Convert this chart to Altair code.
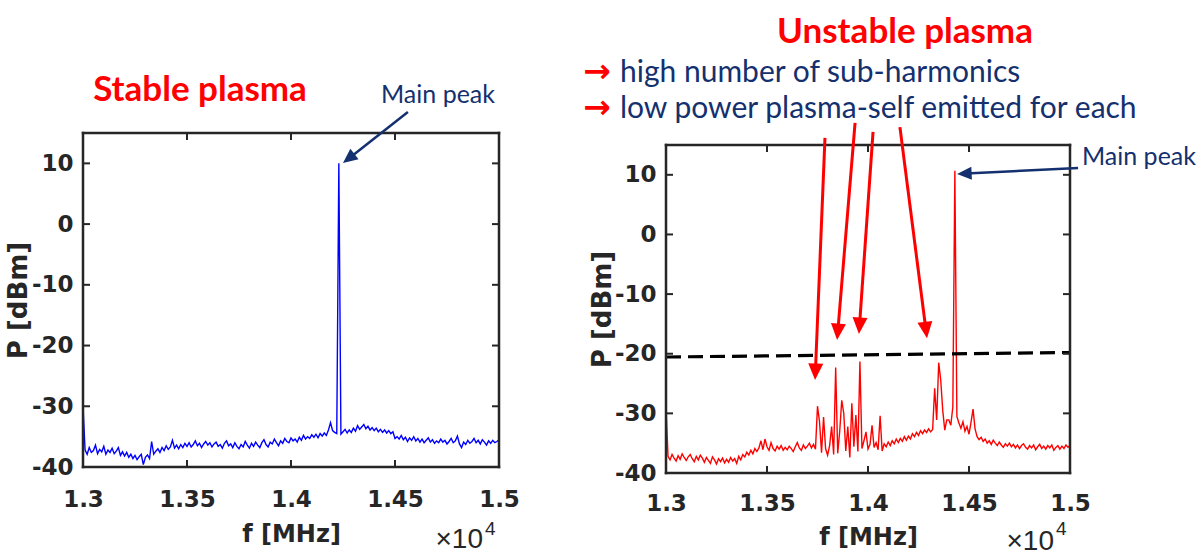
import math
import altair as alt
import pandas as pd

# ---------------- data ----------------
F_START = 1.3      # frequency axis in units of 10^4 MHz
F_STEP = 0.001

P_STABLE = [
    -30.0, -37.2, -37.9, -36.8, -37.6, -37.3, -36.4, -37.8, -37.1, -37.5,
    -36.6, -37.9, -37.2, -37.6, -36.9, -37.8, -37.4, -36.8, -38.1, -37.5,
    -38.2, -37.6, -38.4, -37.9, -38.6, -38.1, -38.8, -38.3, -37.9, -39.6,
    -38.4, -38.0, -38.6, -35.8, -37.9, -37.4, -37.0, -37.6, -36.8, -37.3,
    -36.5, -37.1, -36.7, -35.6, -36.9, -36.4, -37.0, -36.3, -36.8, -36.1,
    -36.6, -36.0, -36.7, -36.3, -35.7, -36.5, -36.1, -36.8, -36.2, -35.8,
    -36.4, -36.0, -36.7, -36.2, -35.9, -36.6, -36.3, -36.9, -36.1, -35.7,
    -36.5, -36.2, -36.8, -36.0, -36.6, -37.0, -36.3, -36.7, -35.8, -36.4,
    -36.9, -36.1, -36.6, -35.9, -36.4, -36.8, -36.0, -35.5, -36.3, -36.7,
    -35.9, -36.2, -35.4, -36.0, -36.5, -35.7, -36.1, -35.3, -35.8, -36.0,
    -35.2, -35.7, -35.4, -35.9, -35.1, -35.6, -34.8, -35.4, -35.0, -35.3,
    -34.7, -35.1, -34.6, -35.2, -34.5, -34.9, -34.4, -34.8, -33.9, -32.7,
    -34.0, -34.3, -34.5, 10.0, -34.6, -34.2, -33.8, -34.4, -33.9, -34.3,
    -33.6, -34.1, -33.2, -33.8, -33.4, -33.0, -33.7, -33.3, -33.9, -33.5,
    -34.0, -33.6, -34.2, -33.8, -34.3, -33.9, -34.4, -34.0, -34.5, -34.2,
    -35.3, -35.0, -35.4, -34.8, -35.5, -35.1, -35.8, -35.2, -35.6, -35.0,
    -35.7, -35.3, -35.9, -35.4, -36.0, -35.6, -35.2, -35.9, -35.5, -36.1,
    -35.7, -36.0, -35.4, -35.9, -35.6, -36.2, -35.8, -35.3, -36.0, -35.7,
    -34.9, -36.2, -36.8, -35.9, -36.3, -35.6, -36.1, -35.8, -35.3, -36.0,
    -35.6, -36.2, -35.5, -35.9, -36.4, -35.7, -36.1, -35.6, -36.0, -35.8,
    -35.5,
]

P_UNSTABLE = [
    -29.0, -37.2, -37.8, -36.9, -37.5, -38.0, -37.1, -37.7, -36.8, -37.4,
    -37.9, -37.3, -36.9, -37.6, -38.1, -37.2, -37.8, -37.0, -37.5, -38.2,
    -37.4, -37.9, -38.4, -37.3, -37.8, -38.5, -37.6, -38.1, -37.5, -38.3,
    -37.7, -38.2, -37.4, -38.0, -37.6, -38.4, -37.2, -37.8, -36.9, -37.3,
    -36.5, -37.0, -36.2, -36.8, -35.9, -36.4, -35.8, -34.6, -36.1, -34.3,
    -35.6, -36.2, -34.9, -35.9, -36.3, -35.5, -36.0, -35.4, -36.2, -35.7,
    -36.1, -35.5, -35.9, -36.4, -35.6, -34.9, -35.8, -36.2, -35.3, -35.9,
    -35.5, -35.0, -35.8, -35.2, -36.0, -28.8, -31.4, -36.6, -30.6, -35.9,
    -37.0, -35.4, -32.2, -36.9, -22.3, -36.7, -33.0, -27.8, -30.0, -36.3,
    -32.2, -37.4, -28.3, -35.6, -30.3, -36.4, -21.3, -35.9, -34.6, -33.1,
    -36.0, -35.2, -32.0, -35.7, -34.9, -36.1, -30.4, -36.3, -35.1, -35.6,
    -34.8, -35.4, -34.6, -35.1, -34.3, -34.9, -34.2, -34.7, -33.9, -34.5,
    -33.8, -34.3, -33.4, -33.9, -33.2, -33.7, -32.9, -33.4, -32.8, -33.2,
    -32.6, -33.1, -32.7, -25.8, -31.1, -21.5, -24.4, -29.5, -32.8, -31.1,
    -31.1, -32.0, -28.9, 10.7, -30.5, -31.6, -32.5, -31.4, -33.0, -32.2,
    -33.5, -31.5, -29.3, -32.6, -33.9, -34.4, -34.0, -34.7, -34.3, -35.0,
    -34.6, -35.2, -34.5, -35.0, -35.4, -34.8, -35.3, -35.7, -35.1, -35.5,
    -35.0, -35.6, -35.2, -35.8, -35.3, -35.9, -35.4, -35.1, -35.7, -36.0,
    -35.4, -35.8, -35.3, -36.1, -35.6, -35.2, -35.9, -35.5, -36.0, -35.4,
    -35.8, -35.3, -36.2, -35.7, -35.4, -36.0, -35.5, -35.9, -35.3, -35.7,
    -35.4,
]

X_TICKS = [1.3, 1.35, 1.4, 1.45, 1.5]
Y_TICKS = [-40, -30, -20, -10, 0, 10]
F_DOMAIN = [1.3, 1.5]
P_DOMAIN = [-40, 15]

# dashed threshold line (right panel)
THRESH_F = [1.3, 1.5]
THRESH_P = [-20.55, -19.8]

# red arrows to the sub-harmonics (start -> tip, data units)
SUB_F0 = [1.3787, 1.3936, 1.4025, 1.4158]
SUB_P0 = [16.2, 18.7, 17.2, 18.0]
SUB_F1 = [1.3738, 1.3847, 1.3955, 1.4292]
SUB_P1 = [-24.4, -17.7, -16.7, -17.4]

# "Main peak" arrows
MAIN_L_F0, MAIN_L_P0, MAIN_L_F1, MAIN_L_P1 = [1.4562], [18.46], [1.4250], [10.06]
MAIN_R_F0, MAIN_R_P0, MAIN_R_F1, MAIN_R_P1 = [1.5040], [11.14], [1.4441], [10.14]

# ---------------- styles / layout ----------------
AX = "#262626"
NAVY = "#14306E"
RED = "#FF0000"
BLUE = "#0000FF"
WL, HL = 416, 334          # left frame size
WR, HR = 404, 328          # right frame size
DROP_R = 12                # right frame sits 12 px lower than the left one
GAP = 167                  # space between the two frames
HEAD = "M0,0L-0.5,-1.1L0.5,-1.1Z"

FREQ = [round(F_START + F_STEP * i, 4) for i in range(len(P_STABLE))]
ONE = pd.DataFrame({"k": [0]})
XS = alt.Scale(domain=F_DOMAIN, nice=False, zero=False)
YS_L = alt.Scale(domain=P_DOMAIN, nice=False, zero=False)
# right view is taller by DROP_R px above the frame: extend the domain top accordingly
YS_R = alt.Scale(domain=[P_DOMAIN[0], P_DOMAIN[1] + DROP_R * (P_DOMAIN[1] - P_DOMAIN[0]) / HR],
                 nice=False, zero=False)


def x_axis(label_pad, title_y, W):
    return alt.Axis(values=X_TICKS, labelExpr="'' + datum.value", title="f [MHz]",
                    labelPadding=label_pad, titleX=W / 2, titleY=title_y,
                    titleAlign="center", titleBaseline="alphabetic", titleFontSize=24)


def y_axis(title_x, title_y):
    return alt.Axis(values=Y_TICKS, labelExpr="'' + datum.value", title="P [dBm]",
                    labelPadding=10, titleX=title_x, titleY=title_y, titleAngle=270,
                    titleAlign="center", titleBaseline="alphabetic", titleFontSize=26)


class Panel:
    def __init__(self, W, H, ys, xa, ya):
        self.W, self.H, self.ys, self.xa, self.ya = W, H, ys, xa, ya

    def X(self, field):
        return alt.X(field, type="quantitative", scale=XS, axis=self.xa)

    def Y(self, field):
        return alt.Y(field, type="quantitative", scale=self.ys, axis=self.ya)

    def spectrum(self, vals, color):
        df = pd.DataFrame({"f": FREQ, "p": vals})
        return alt.Chart(df).mark_line(color=color, strokeWidth=1.4).encode(
            x=self.X("f"), y=self.Y("p"))

    def frame(self):
        v = pd.DataFrame({"f": F_DOMAIN, "p": [P_DOMAIN[0]] * 2, "p2": [P_DOMAIN[1]] * 2})
        h = pd.DataFrame({"p": P_DOMAIN, "f": [F_DOMAIN[0]] * 2, "f2": [F_DOMAIN[1]] * 2})
        st = dict(color=AX, strokeWidth=2.5, strokeCap="square")
        return [
            alt.Chart(v).mark_rule(**st).encode(x=self.X("f"), y=self.Y("p"), y2="p2:Q"),
            alt.Chart(h).mark_rule(**st).encode(y=self.Y("p"), x=self.X("f"), x2="f2:Q"),
        ]

    def ticks(self):
        xb = pd.DataFrame({"f": X_TICKS, "p": [P_DOMAIN[0]] * len(X_TICKS)})
        xt = pd.DataFrame({"f": X_TICKS, "p": [P_DOMAIN[1]] * len(X_TICKS)})
        yl = pd.DataFrame({"p": Y_TICKS, "f": [F_DOMAIN[0]] * len(Y_TICKS)})
        yr = pd.DataFrame({"p": Y_TICKS, "f": [F_DOMAIN[1]] * len(Y_TICKS)})
        c = dict(color=AX, thickness=2, size=7, opacity=1)
        return [
            alt.Chart(xb).mark_tick(orient="vertical", yOffset=-3.5, **c).encode(x=self.X("f"), y=self.Y("p")),
            alt.Chart(xt).mark_tick(orient="vertical", yOffset=3.5, **c).encode(x=self.X("f"), y=self.Y("p")),
            alt.Chart(yl).mark_tick(orient="horizontal", xOffset=3.5, **c).encode(y=self.Y("p"), x=self.X("f")),
            alt.Chart(yr).mark_tick(orient="horizontal", xOffset=-3.5, **c).encode(y=self.Y("p"), x=self.X("f")),
        ]

    def arrows(self, f0s, p0s, f1s, p1s, color, width, head):
        W, H = self.W, self.H
        rows = []
        for a, b, c, d in zip(f0s, p0s, f1s, p1s):
            dx = (c - a) / 0.2 * W
            dy = -(d - b) / 55 * H
            L = math.hypot(dx, dy)
            ux, uy = dx / L, dy / L
            back = 9
            rows.append(dict(f0=a, p0=b, f1=c, p1=d,
                             fe=c - ux * back * 0.2 / W, pe=d + uy * back * 55 / H,
                             ang=math.degrees(math.atan2(-ux, uy)) % 360))
        df = pd.DataFrame(rows)
        line = alt.Chart(df).mark_rule(color=color, strokeWidth=width).encode(
            x=self.X("f0"), y=self.Y("p0"), x2="fe:Q", y2="pe:Q")
        tip = alt.Chart(df).mark_point(shape=HEAD, filled=True, size=head, color=color,
                                       opacity=1, strokeWidth=0).encode(
            x=self.X("f1"), y=self.Y("p1"), angle=alt.Angle("ang:Q", scale=None))
        return [line, tip]


def label(text, x, y, **kw):
    return alt.Chart(ONE).mark_text(text=text, **kw).encode(x=alt.value(x), y=alt.value(y))


def anchor(x, y):
    return alt.Chart(ONE).mark_rule(opacity=0, strokeWidth=0.1, color="white").encode(
        x=alt.value(x), y=alt.value(y), x2=alt.value(x), y2=alt.value(y + 1))


# ---------------- left panel: stable plasma ----------------
PL = Panel(WL, HL, YS_L, x_axis(21, 74, WL), y_axis(-57, HL / 2))
left_layers = [
    anchor(-82.9, -132.9),
    PL.spectrum(P_STABLE, BLUE),
    *PL.frame(),
    *PL.ticks(),
    *PL.arrows(MAIN_L_F0, MAIN_L_P0, MAIN_L_F1, MAIN_L_P1, NAVY, 2.5, 700),
    label("Stable plasma", 117, -32, font="Lato", fontSize=35, fontWeight="bold",
          color=RED, align="center", baseline="alphabetic"),
    label("Main peak", 355, -30, font="Lato", fontSize=25, color=NAVY,
          align="center", baseline="alphabetic"),
    label("×10", 400, 415, font="Liberation Sans", fontSize=28, color=AX,
          align="right", baseline="alphabetic"),
    label("4", 402, 402, font="Liberation Sans", fontSize=19, color=AX,
          align="left", baseline="alphabetic"),
]
left = alt.layer(*left_layers).properties(width=WL, height=HL)

# ---------------- right panel: unstable plasma ----------------
D = DROP_R
PR = Panel(WR, HR, YS_R, x_axis(19, 71.5, WR), y_axis(-56, D + HR / 2))
thr = alt.Chart(pd.DataFrame({"f": THRESH_F, "p": THRESH_P})).mark_line(
    color="black", strokeWidth=3.2, strokeDash=[15, 7]).encode(x=PR.X("f"), y=PR.Y("p"))
right_layers = [
    PR.spectrum(P_UNSTABLE, RED),
    thr,
    *PR.frame(),
    *PR.ticks(),
    *PR.arrows(SUB_F0, SUB_P0, SUB_F1, SUB_P1, RED, 3, 900),
    *PR.arrows(MAIN_R_F0, MAIN_R_P0, MAIN_R_F1, MAIN_R_P1, NAVY, 2.5, 700),
    label("Unstable plasma", 239, D - 102, font="Lato", fontSize=35, fontWeight="bold",
          color=RED, align="center", baseline="alphabetic"),
    label("→", -69, D - 73, font="DejaVu Sans", fontSize=33, fontWeight="bold",
          color=RED, align="center", baseline="middle"),
    label("→", -69, D - 37, font="DejaVu Sans", fontSize=33, fontWeight="bold",
          color=RED, align="center", baseline="middle"),
    label("high number of sub-harmonics", -46, D - 63, font="Lato", fontSize=30,
          color=NAVY, align="left", baseline="alphabetic"),
    label("low power plasma-self emitted for each", -46, D - 27, font="Lato", fontSize=30,
          color=NAVY, align="left", baseline="alphabetic"),
    label("Main peak", 416, D + 20, font="Lato", fontSize=25, color=NAVY,
          align="left", baseline="alphabetic"),
    label("×10", 388, D + 405, font="Liberation Sans", fontSize=28, color=AX,
          align="right", baseline="alphabetic"),
    label("4", 390, D + 390, font="Liberation Sans", fontSize=19, color=AX,
          align="left", baseline="alphabetic"),
]
right = alt.layer(*right_layers).properties(width=WR, height=HR + D)

chart = alt.hconcat(left, right, spacing=GAP, bounds="flush").properties(padding=0).configure_axis(
    domain=False, ticks=False, grid=False, labelFlush=False, labelOverlap=False,
    labelFont="DejaVu Sans", labelFontSize=23, labelFontWeight="bold", labelColor=AX,
    titleFont="DejaVu Sans", titleFontWeight="bold", titleColor=AX,
).configure_view(strokeWidth=0)

chart.save("out.html", embed_options={"renderer": "svg", "actions": False})
